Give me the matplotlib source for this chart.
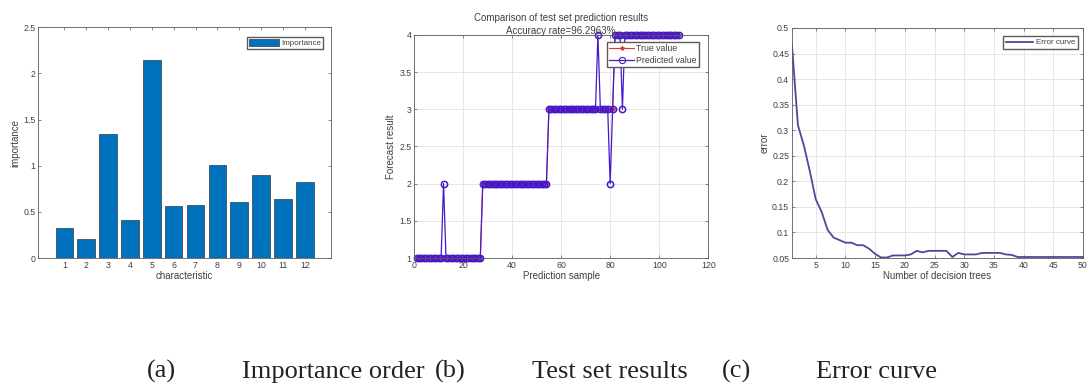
import matplotlib.pyplot as plt
import numpy as np
from matplotlib.ticker import FuncFormatter

plt.rcParams['font.family'] = ['Liberation Sans', 'DejaVu Sans']

# (a) importancia de cada caracteristica
caracteristicas = [1, 2, 3, 4, 5, 6, 7, 8, 9, 10, 11, 12]
importancia = [0.32, 0.21, 1.34, 0.41, 2.14, 0.56, 0.57, 1.01, 0.61, 0.90, 0.64, 0.82]

# (b) resultados del conjunto de prueba: 4 clases de 27 muestras
clases = [1, 2, 3, 4]
muestras_por_clase = [27, 27, 27, 27]
# muestra mal clasificada -> valor predicho
errores = {12: 2, 75: 4, 80: 2, 85: 3}
precision = 96.2963

# (c) curva de error vs numero de arboles
arboles = list(range(1, 51))
error = [0.465, 0.31, 0.27, 0.22, 0.165, 0.14, 0.105, 0.09, 0.085, 0.08,
         0.08, 0.075, 0.075, 0.068, 0.058, 0.051, 0.051, 0.055, 0.055, 0.055,
         0.057, 0.064, 0.061, 0.064, 0.064, 0.064, 0.064, 0.052, 0.060, 0.057,
         0.057, 0.057, 0.060, 0.060, 0.060, 0.060, 0.057, 0.056, 0.052, 0.052,
         0.052, 0.052, 0.052, 0.052, 0.052, 0.052, 0.052, 0.052, 0.052, 0.052]

# pie de figura
pie = ['(a)', 'Importance order', '(b)', 'Test set results', '(c)', 'Error curve']
pie_x = [0.135, 0.223, 0.400, 0.489, 0.664, 0.751]

texto = '#404040'
borde = '#5a5a5a'
fs = 6.3

fig = plt.figure(figsize=(10.87, 3.86), dpi=100)
ax1 = fig.add_axes([0.035, 0.3316, 0.2696, 0.598])
ax2 = fig.add_axes([0.381, 0.3316, 0.2705, 0.578])
ax3 = fig.add_axes([0.7286, 0.3316, 0.2677, 0.596])

fmt = FuncFormatter(lambda v, p: '%g' % round(v, 4))

for ax in (ax1, ax2, ax3):
    for s in ax.spines.values():
        s.set_color(borde)
        s.set_linewidth(0.6)
    ax.tick_params(direction='in', length=2.5, width=0.5, colors=borde,
                   labelcolor=texto, labelsize=fs, top=True, right=True, pad=2)
    ax.yaxis.set_major_formatter(fmt)

# ---- (a) barras
ax1.bar(caracteristicas, importancia, width=0.8, color='#0072BD',
        edgecolor='#1a1a1a', linewidth=0.4, label='Importance')
ax1.set_xlim(-0.2, 13.2)
ax1.set_ylim(0, 2.5)
ax1.set_xticks(caracteristicas)
ax1.set_yticks(np.arange(0, 2.51, 0.5))
ax1.set_xlabel('characteristic', fontsize=7, color=texto, labelpad=1)
ax1.set_ylabel('importance', fontsize=7, color=texto, labelpad=2)
leg1 = ax1.legend(loc='upper right', bbox_to_anchor=(0.973, 0.957), borderaxespad=0,
                  fontsize=5.8, handlelength=3.8, handleheight=1.0, fancybox=False,
                  edgecolor=borde, framealpha=1, borderpad=0.2, handletextpad=0.3)

# ---- (b) prediccion
verdadero = np.repeat(clases, muestras_por_clase)
predicho = verdadero.copy()
for idx, val in errores.items():
    predicho[idx - 1] = val
n = np.arange(1, len(verdadero) + 1)

ax2.grid(True, color='#e3e3e3', linewidth=0.6)
ax2.set_axisbelow(True)
ax2.plot(n, verdadero, '-*', color='#d83a3a', markersize=3, linewidth=0.8,
         label='True value', clip_on=False)
ax2.plot(n, predicho, '-o', color='#4518cc', markersize=4.5, linewidth=0.9,
         markerfacecolor='none', markeredgewidth=1.1, label='Predicted value',
         clip_on=False)
ax2.set_xlim(0, 120)
ax2.set_ylim(1, 4)
ax2.set_xticks(np.arange(0, 121, 20))
ax2.set_yticks(np.arange(1, 4.01, 0.5))
ax2.set_xlabel('Prediction sample', fontsize=7, color=texto, labelpad=1)
ax2.set_ylabel('Forecast result', fontsize=7, color=texto, labelpad=2)
ax2.set_title('Comparison of test set prediction results\nAccuracy rate=%.4f%%' % precision,
              fontsize=7, color=texto, pad=1, linespacing=1.3)
leg2 = ax2.legend(loc='upper right', bbox_to_anchor=(0.969, 0.969), borderaxespad=0,
                  fontsize=6.3, handlelength=2.8, fancybox=False, edgecolor=borde,
                  framealpha=1, borderpad=0.25, handletextpad=0.3, labelspacing=0.3)
leg2.set_zorder(5)
for h in leg2.legend_handles:
    h.set_markeredgewidth(0.8)

# ---- (c) curva de error
ax3.grid(True, color='#e3e3e3', linewidth=0.6)
ax3.set_axisbelow(True)
ax3.plot(arboles, error, '-', color='#4a4a9a', linewidth=1.3, label='Error curve')
ax3.set_xlim(1, 50)
ax3.set_ylim(0.05, 0.5)
ax3.set_xticks(np.arange(5, 51, 5))
ax3.set_yticks(np.arange(0.05, 0.501, 0.05))
ax3.set_xlabel('Number of decision trees', fontsize=7, color=texto, labelpad=1)
ax3.set_ylabel('error', fontsize=7, color=texto, labelpad=2)
leg3 = ax3.legend(loc='upper right', bbox_to_anchor=(0.983, 0.965), borderaxespad=0,
                  fontsize=5.8, handlelength=3.4, fancybox=False, edgecolor=borde,
                  framealpha=1, borderpad=0.35, handletextpad=0.3)

for lg in (leg1, leg2, leg3):
    for t in lg.get_texts():
        t.set_color(texto)

for etiqueta, x in zip(pie, pie_x):
    fig.text(x, 0.022, etiqueta, fontsize=19, family='Liberation Serif',
             color='#222222', va='baseline', ha='left')

fig.savefig('out.png', dpi=100)
